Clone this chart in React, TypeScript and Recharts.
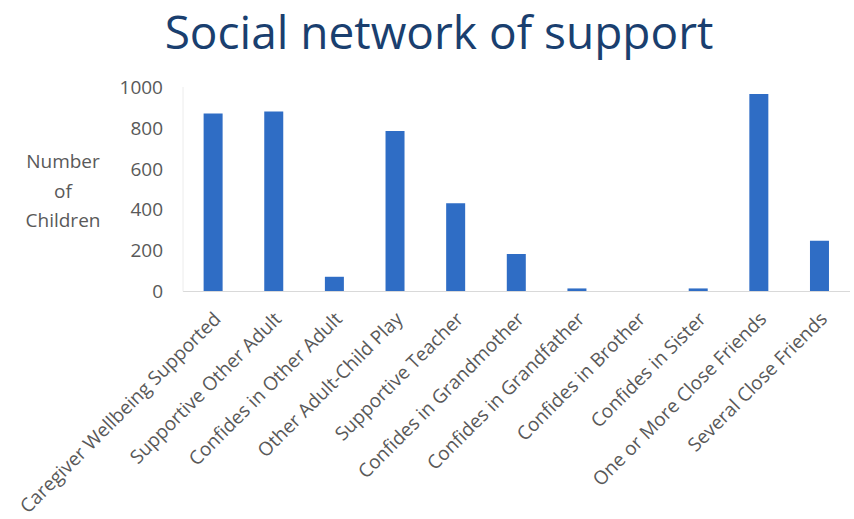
import { BarChart, Bar, XAxis, YAxis } from 'recharts'

const categories = [
  'Caregiver Wellbeing Supported',
  'Supportive Other Adult',
  'Confides in Other Adult',
  'Other Adult-Child Play',
  'Supportive Teacher',
  'Confides in Grandmother',
  'Confides in Grandfather',
  'Confides in Brother',
  'Confides in Sister',
  'One or More Close Friends',
  'Several Close Friends',
]

const children = [870, 880, 72, 785, 431, 183, 15, 0, 15, 966, 248]

const yTicks = [0, 200, 400, 600, 800, 1000]

const data = categories.map((name, i) => ({ name, value: children[i] }))

const FONT = '"Open Sans", sans-serif'

const AngledTick = ({ x, y, payload }) => {
  const tx = x + 4
  const ty = y + 16
  return (
    <text
      x={tx}
      y={ty}
      dy="0.35em"
      textAnchor="end"
      transform={`rotate(-45 ${tx} ${ty})`}
      fill="#595959"
      fontSize={19}
      fontFamily={FONT}
    >
      {payload.value}
    </text>
  )
}

export default function App() {
  return (
    <div
      style={{
        position: 'absolute',
        left: 0,
        top: 0,
        width: 854,
        height: 519,
        background: '#fff',
        fontFamily: FONT,
      }}
    >
      <div
        style={{
          position: 'absolute',
          left: 24,
          top: 0,
          width: 830,
          textAlign: 'center',
          fontSize: 46,
          color: '#1a3f6f',
          whiteSpace: 'nowrap',
        }}
      >
        Social network of support
      </div>
      <div
        style={{
          position: 'absolute',
          left: 13,
          top: 147,
          width: 100,
          textAlign: 'center',
          fontSize: 19,
          lineHeight: '29.5px',
          color: '#595959',
        }}
      >
        Number
        <br />
        of
        <br />
        Children
      </div>
      <div style={{ position: 'absolute', left: 0, top: 0 }}>
        <BarChart
          width={854}
          height={519}
          data={data}
          margin={{ top: 87, right: 4, bottom: 0, left: 0 }}
          barCategoryGap="34%"
        >
          <XAxis
            dataKey="name"
            interval={0}
            tickLine={false}
            axisLine={{ stroke: '#d9d9d9' }}
            height={227.5}
            tick={<AngledTick />}
          />
          <YAxis
            width={183}
            domain={[0, 1000]}
            ticks={yTicks}
            tickLine={false}
            tickSize={0}
            tickMargin={20}
            axisLine={{ stroke: '#ececec' }}
            tick={{ fill: '#595959', fontSize: 19, fontFamily: FONT }}
          />
          <Bar dataKey="value" fill="#2f6dc5" isAnimationActive={false} />
        </BarChart>
      </div>
    </div>
  )
}
